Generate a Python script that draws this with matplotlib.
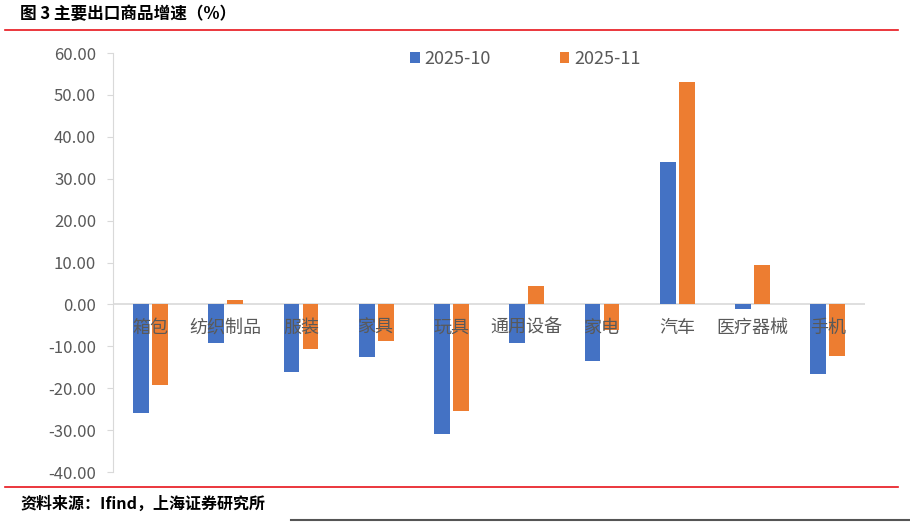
import numpy as np
import matplotlib
matplotlib.use('Agg')
import matplotlib.pyplot as plt
from matplotlib.ticker import FormatStrFormatter

plt.rcParams['font.family'] = ['Noto Sans CJK SC', 'DejaVu Sans']

# data
categories = ['箱包', '纺织制品', '服装', '家具', '玩具', '通用设备', '家电', '汽车', '医疗器械', '手机']
oct_vals = [-25.8, -9.1, -16.0, -12.6, -31.0, -9.1, -13.6, 34.1, -1.0, -16.7]
nov_vals = [-19.3, 1.0, -10.7, -8.8, -25.5, 4.5, -6.0, 53.0, 9.5, -12.4]
series_names = ['2025-10', '2025-11']

blue = '#4472C4'
orange = '#ED7D31'
gray = '#595959'

fig = plt.figure(figsize=(9.1, 5.31), dpi=100)
ax = fig.add_axes([0.124, 0.111, 0.827, 0.789])

x = np.arange(len(categories))
w = 0.21
ax.bar(x - 0.127, oct_vals, width=w, color=blue, label=series_names[0], zorder=2)
ax.bar(x + 0.127, nov_vals, width=w, color=orange, label=series_names[1], zorder=2)

ax.set_xlim(-0.5, len(categories) - 0.5)
ax.set_ylim(-40, 60)
ax.set_yticks(np.arange(-40, 61, 10))
ax.yaxis.set_major_formatter(FormatStrFormatter('%.2f'))
ax.tick_params(axis='y', labelsize=12, colors='#d9d9d9', labelcolor=gray, length=4, pad=8)
ax.set_xticks([])

for s in ['top', 'right', 'bottom']:
    ax.spines[s].set_visible(False)
ax.spines['left'].set_color('#d9d9d9')
ax.axhline(0, color='#d9d9d9', lw=1.2, zorder=1)

for xi, c in zip(x, categories):
    ax.text(xi, -5.5, c, ha='center', va='center', fontsize=13, color=gray, zorder=3)

leg = ax.legend(loc='upper center', bbox_to_anchor=(0.548, 1.047), ncol=2, frameon=False,
                fontsize=13, handlelength=0.55, handleheight=0.55, handletextpad=0.25,
                columnspacing=3.8, labelcolor=gray)

# title, frame lines, source
fig.text(0.022, 0.973, '图 3 主要出口商品增速（%）', fontsize=12, fontweight='bold', va='center')
fig.add_artist(plt.Line2D([0.006, 0.987], [0.944, 0.944], color='#e8141b', lw=1.2))
fig.add_artist(plt.Line2D([0.006, 0.987], [0.083, 0.083], color='#e8141b', lw=1.2))
fig.text(0.022, 0.052, '资料来源：Ifind，上海证券研究所', fontsize=11.5, fontweight='bold',
         style='italic', va='center')
fig.add_artist(plt.Line2D([0.32, 1.0], [0.02, 0.02], color='#555555', lw=1.5))

fig.savefig('out.png', dpi=100)
